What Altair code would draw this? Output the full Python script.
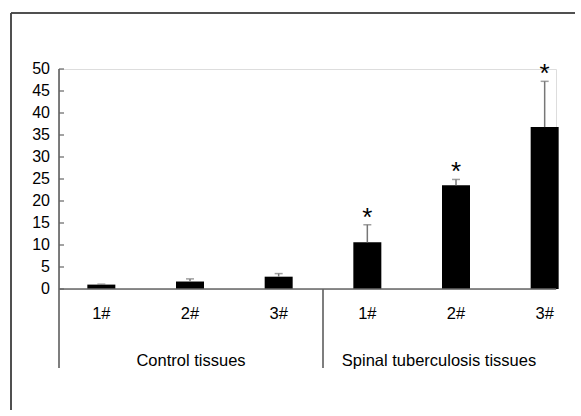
import altair as alt
import pandas as pd

groups = ["Control tissues"] * 3 + ["Spinal tuberculosis tissues"] * 3
samples = ["1#", "2#", "3#", "1#", "2#", "3#"]
values = [1.0, 1.7, 2.8, 10.6, 23.6, 36.8]
errors = [0.1, 0.6, 0.7, 4.0, 1.3, 10.4]
stars = ["", "", "", "*", "*", "*"]
y_ticks = list(range(0, 55, 5))
group_names = ["Control tissues", "Spinal tuberculosis tissues"]

df = pd.DataFrame({
    "key": [g + "|" + s for g, s in zip(groups, samples)],
    "sample": samples,
    "value": values,
    "upper": [v + e for v, e in zip(values, errors)],
    "star": stars,
})
order = list(df["key"])

FONT = "Liberation Sans"
W, H = 497, 220
xscale = alt.Scale(domain=order, range=[-2, 530], paddingInner=0, paddingOuter=0)
yscale = alt.Scale(domain=[0, 50], nice=False)
xe = alt.X("key:N", scale=xscale, sort=order, axis=None)
ye = alt.Y("value:Q", scale=yscale, axis=None)
yu = alt.Y("upper:Q", scale=yscale, axis=None)

base = alt.Chart(df)
bars = base.mark_bar(size=28, color="#000000").encode(x=xe, y=ye)
err = base.mark_rule(color="#777777", strokeWidth=1.5).encode(x=xe, y=ye, y2="upper:Q")
caps = base.mark_tick(color="#777777", size=8, thickness=1.5).encode(x=xe, y=yu)
star_txt = base.mark_text(fontSize=26, font=FONT, baseline="middle", dy=-7,
                          color="#000000").encode(x=xe, y=yu, text="star:N")
xlabels = base.mark_text(fontSize=16.5, font=FONT, baseline="middle",
                         color="#000000").encode(x=xe, y=alt.value(H + 25), text="sample:N")

tdf = pd.DataFrame({"t": y_ticks})
ticks = alt.Chart(tdf).mark_rule(color="#666666", strokeWidth=1.2).encode(
    x=alt.value(0), x2=alt.value(5), y=alt.Y("t:Q", scale=yscale, axis=None))
ylabels = alt.Chart(tdf).mark_text(fontSize=16, font=FONT, align="right",
                                   baseline="middle", color="#000000").encode(
    x=alt.value(-9), y=alt.Y("t:Q", scale=yscale, axis=None), text="t:Q")

gdf = pd.DataFrame({"g": group_names})
lbl1 = alt.Chart(gdf).transform_filter(alt.datum.g == group_names[0]).mark_text(
    fontSize=16.5, font=FONT, color="#000000").encode(
    x=alt.value(132), y=alt.value(292), text="g:N")
lbl2 = alt.Chart(gdf).transform_filter(alt.datum.g == group_names[1]).mark_text(
    fontSize=16.5, font=FONT, color="#000000").encode(
    x=alt.value(380), y=alt.value(292), text="g:N")

yaxis_line = alt.Chart(gdf).mark_rule(color="#666666", strokeWidth=1.2).encode(
    x=alt.value(0), y=alt.value(0), y2=alt.value(299))
xaxis_line = alt.Chart(gdf).mark_rule(color="#666666", strokeWidth=1.2).encode(
    x=alt.value(0), x2=alt.value(W), y=alt.value(H))
sep_mid = alt.Chart(gdf).mark_rule(color="#666666", strokeWidth=1.2).encode(
    x=alt.value(264), y=alt.value(220), y2=alt.value(299))

frame_top = alt.Chart(gdf).mark_rule(color="#444444", strokeWidth=1.5).encode(
    x=alt.value(-48), x2=alt.value(520), y=alt.value(-56))
frame_left = alt.Chart(gdf).mark_rule(color="#444444", strokeWidth=1.5).encode(
    x=alt.value(-48), y=alt.value(-56), y2=alt.value(345))

chart = alt.layer(frame_top, frame_left, bars, err, caps, star_txt, xlabels, ticks,
                  ylabels, lbl1, lbl2, yaxis_line, xaxis_line, sep_mid).properties(
    width=W, height=H,
    autosize=alt.AutoSizeParams(type="none"),
    padding={"left": 59, "top": 69, "right": 19, "bottom": 121},
).configure_view(strokeWidth=0, stroke="transparent").configure(background="#ffffff")

chart.save("out.html", embed_options={"renderer": "svg", "actions": False})
